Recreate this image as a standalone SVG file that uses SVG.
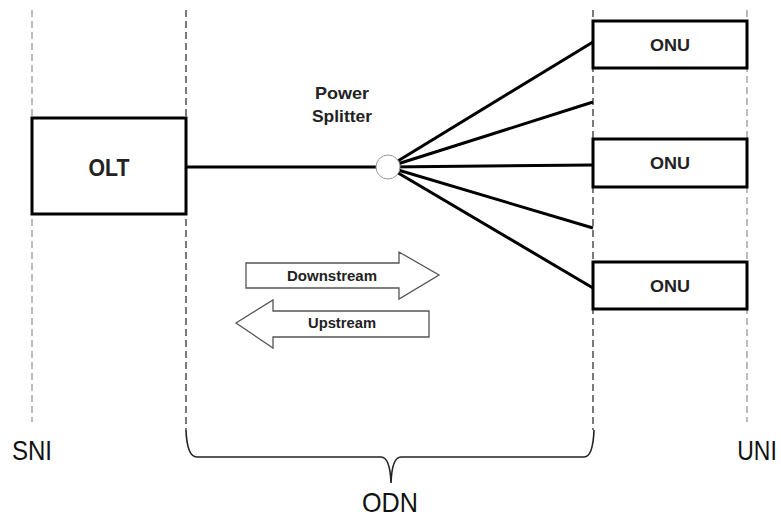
<svg xmlns="http://www.w3.org/2000/svg" width="781" height="518" viewBox="0 0 781 518">
  <style>
    .guide-light { stroke: #a0a0a0; stroke-width: 1.4; stroke-dasharray: 7 4; fill: none; }
    .guide-dark { stroke: #333; stroke-width: 1.3; stroke-dasharray: 7 4; fill: none; }
    .box { fill: #fff; stroke: #000; stroke-width: 3; }
    .fiber { stroke: #000; stroke-width: 3; fill: none; }
    .flow { fill: #fff; stroke: #555; stroke-width: 1.3; }
    .bold { font-family: "Liberation Sans", Arial, sans-serif; font-weight: bold; fill: #222; text-anchor: middle; }
    .plain { font-family: "Liberation Sans", Arial, sans-serif; fill: #111; text-anchor: middle; font-size: 28px; }
  </style>

  <!-- interface boundaries -->
  <g id="boundaries">
    <line class="guide-light" x1="32" y1="10" x2="32" y2="422"/>
    <line class="guide-dark" x1="186" y1="10" x2="186" y2="430"/>
    <line class="guide-dark" x1="593" y1="10" x2="593" y2="430"/>
    <line class="guide-light" x1="747" y1="10" x2="747" y2="422"/>
  </g>

  <!-- fibre connectors -->
  <g id="connectors">
    <line class="fiber" x1="186" y1="167" x2="388" y2="167"/>
    <line class="fiber" x1="388" y1="167" x2="593" y2="42"/>
    <line class="fiber" x1="388" y1="167" x2="593" y2="102"/>
    <line class="fiber" x1="388" y1="167" x2="593" y2="165"/>
    <line class="fiber" x1="388" y1="167" x2="593" y2="228"/>
    <line class="fiber" x1="388" y1="167" x2="593" y2="288"/>
  </g>

  <g id="olt">
    <rect class="box" x="32" y="118" width="154" height="96"/>
    <text class="bold" x="109" y="176" font-size="23" textLength="41" lengthAdjust="spacingAndGlyphs">OLT</text>
  </g>

  <g id="splitter">
    <circle cx="388" cy="167" r="12" fill="#fff" stroke="#999" stroke-width="1"/>
    <text class="bold" x="342" y="99" font-size="17" textLength="54" lengthAdjust="spacingAndGlyphs">Power</text>
    <text class="bold" x="342" y="122" font-size="17" textLength="60" lengthAdjust="spacingAndGlyphs">Splitter</text>
  </g>

  <g id="onu1">
    <rect class="box" x="593" y="21" width="154" height="47"/>
    <text class="bold" x="670" y="51" font-size="17" textLength="40" lengthAdjust="spacingAndGlyphs">ONU</text>
  </g>
  <g id="onu2">
    <rect class="box" x="593" y="139" width="154" height="48"/>
    <text class="bold" x="670" y="169" font-size="17" textLength="40" lengthAdjust="spacingAndGlyphs">ONU</text>
  </g>
  <g id="onu3">
    <rect class="box" x="593" y="262" width="154" height="47"/>
    <text class="bold" x="670" y="292" font-size="17" textLength="40" lengthAdjust="spacingAndGlyphs">ONU</text>
  </g>

  <!-- traffic direction arrows -->
  <g id="downstream">
    <path class="flow" d="M246,263 L399,263 L399,252 L439,275 L399,299 L399,288 L246,288 Z"/>
    <text class="bold" x="332" y="281" font-size="14" textLength="90" lengthAdjust="spacingAndGlyphs">Downstream</text>
  </g>
  <g id="upstream">
    <path class="flow" d="M429,311 L273,311 L273,300 L236,323 L273,348 L273,337 L429,337 Z"/>
    <text class="bold" x="342" y="328" font-size="14" textLength="68" lengthAdjust="spacingAndGlyphs">Upstream</text>
  </g>

  <!-- ODN brace -->
  <g id="odn-brace">
    <path d="M186,430 Q187,457 197,457 L381,457 Q390,457 391,483 Q392,457 401,457 L584,457 Q593,457 594,430" fill="none" stroke="#222" stroke-width="1.6"/>
  </g>

  <!-- interface names, set condensed -->
  <g id="labels">
    <text class="plain" transform="translate(32,460) scale(0.86,1)">SNI</text>
    <text class="plain" transform="translate(757,460) scale(0.82,1)">UNI</text>
    <text class="plain" transform="translate(390,512) scale(0.9,1)" font-size="27">ODN</text>
  </g>
</svg>
